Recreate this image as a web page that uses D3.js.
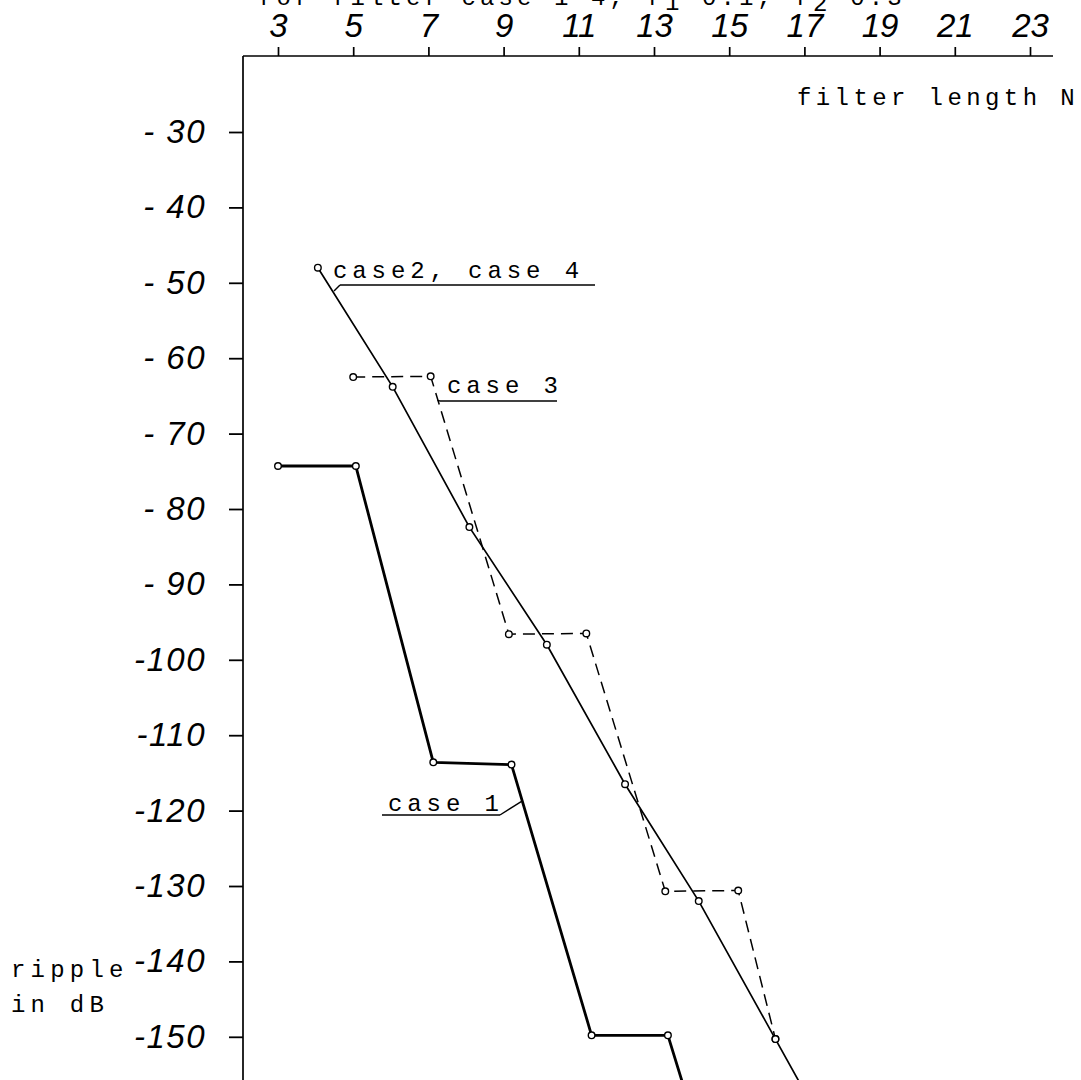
<!DOCTYPE html>
<html>
<head>
<meta charset="utf-8">
<script src="https://cdn.jsdelivr.net/npm/d3@7"></script>
<style>
  html, body { margin: 0; padding: 0; background: #fff; }
  svg { display: block; }
</style>
</head>
<body>
<script>
// Axis ticks: odd filter lengths on top, ripple levels in dB on the left
const nTicks = [3, 5, 7, 9, 11, 13, 15, 17, 19, 21, 23];
const dbTicks = [-30, -40, -50, -60, -70, -80, -90, -100, -110, -120, -130, -140, -150];
const dbTickLabels = ["- 30", "- 40", "- 50", "- 60", "- 70", "- 80", "- 90",
                      "-100", "-110", "-120", "-130", "-140", "-150"];

// case 1 (heavy solid line); last point lies below the bottom edge
const case1N  = [3, 5.07, 7.13, 9.21, 11.34, 13.37, 15.6];
const case1dB = [-74.3, -74.3, -113.6, -113.9, -149.8, -149.8, -186];

// case 2 / case 4 (thin solid line)
const case2N  = [4.06, 6.05, 8.09, 10.15, 12.23, 14.19, 16.23, 18.2];
const case2dB = [-48.0, -63.8, -82.4, -98.0, -116.5, -132.0, -150.3, -168];

// case 3 (dashed line)
const case3N  = [5.0, 7.06, 9.14, 11.2, 13.3, 15.24, 16.23];
const case3dB = [-62.5, -62.4, -96.6, -96.5, -130.7, -130.6, -150.3];

const W = 1081, H = 1080;
const frame = { left: 243, top: 56, right: 1053, bottom: H };

const svg = d3.select("body").append("svg")
  .attr("width", W).attr("height", H)
  .attr("viewBox", `0 0 ${W} ${H}`);

const x = d3.scaleLinear().domain([3, 23]).range([278, 1030]);
const y = d3.scaleLinear().domain([-30, -150]).range([132, 1036.8]);

const zip = (ns, dbs) => ns.map((n, i) => ({ n, db: dbs[i] }));
const case1 = zip(case1N, case1dB);
const case2 = zip(case2N, case2dB);
const case3 = zip(case3N, case3dB);

const monoFont = "'Liberation Mono', 'DejaVu Sans Mono', monospace";
const handFont = "'Liberation Sans', Arial, sans-serif";

// Heading (partly above the page edge)
const title = svg.append("text")
  .attr("x", 258).attr("y", 5)
  .attr("font-family", monoFont).attr("font-size", 24)
  .attr("letter-spacing", 4.1).attr("fill", "#000");
title.append("tspan").text("for filter case 1-4, f");
title.append("tspan").attr("dy", 5).text("1");
title.append("tspan").attr("dy", -5).text(" 0.1, f");
title.append("tspan").attr("dy", 6).text("2");
title.append("tspan").attr("dy", -6).text(" 0.3");

// Top axis: filter length N
const gx = svg.append("g")
  .attr("transform", `translate(0,${frame.top})`)
  .call(d3.axisTop(x).tickValues(nTicks).tickSize(9).tickSizeOuter(0)
        .tickPadding(10).tickFormat(d => String(d)));
gx.select(".domain").remove();
gx.attr("font-family", handFont).attr("font-size", 33).attr("font-style", "italic");
gx.selectAll(".tick line").attr("stroke", "#000").attr("stroke-width", 1.7);
gx.selectAll(".tick text").attr("fill", "#000");

// Left axis: ripple in dB
const gy = svg.append("g")
  .attr("transform", `translate(${frame.left},0)`)
  .call(d3.axisLeft(y).tickValues(dbTicks).tickSize(14).tickSizeOuter(0)
        .tickPadding(23).tickFormat((d, i) => dbTickLabels[i]));
gy.select(".domain").remove();
gy.attr("font-family", handFont).attr("font-size", 33).attr("font-style", "italic");
gy.selectAll(".tick line").attr("stroke", "#000").attr("stroke-width", 1.8);
gy.selectAll(".tick text").attr("fill", "#000").attr("letter-spacing", 1.5);

// Axis rules
svg.append("line")
  .attr("x1", frame.left).attr("x2", frame.right)
  .attr("y1", frame.top).attr("y2", frame.top)
  .attr("stroke", "#000").attr("stroke-width", 1.7);
svg.append("line")
  .attr("x1", frame.left).attr("x2", frame.left)
  .attr("y1", frame.top).attr("y2", frame.bottom)
  .attr("stroke", "#000").attr("stroke-width", 1.7);

// Axis titles
svg.append("text")
  .attr("x", 797).attr("y", 105)
  .attr("font-family", monoFont).attr("font-size", 24)
  .attr("letter-spacing", 4.4).attr("fill", "#000")
  .text("filter length N");
svg.append("text")
  .attr("x", 11).attr("y", 977)
  .attr("font-family", monoFont).attr("font-size", 24)
  .attr("letter-spacing", 5.2).attr("fill", "#000")
  .text("ripple");
svg.append("text")
  .attr("x", 11).attr("y", 1012)
  .attr("font-family", monoFont).attr("font-size", 24)
  .attr("letter-spacing", 5.2).attr("fill", "#000")
  .text("in dB");

// Curves, clipped to the plotting frame
svg.append("clipPath").attr("id", "plotClip")
  .append("rect")
  .attr("x", frame.left).attr("y", frame.top)
  .attr("width", frame.right - frame.left).attr("height", frame.bottom - frame.top);

const line = d3.line().x(d => x(d.n)).y(d => y(d.db));
const plot = svg.append("g").attr("clip-path", "url(#plotClip)");

plot.append("path").datum(case3)
  .attr("d", line).attr("fill", "none")
  .attr("stroke", "#000").attr("stroke-width", 1.5)
  .attr("stroke-dasharray", "12 7");
plot.append("path").datum(case2)
  .attr("d", line).attr("fill", "none")
  .attr("stroke", "#000").attr("stroke-width", 1.7);
plot.append("path").datum(case1)
  .attr("d", line).attr("fill", "none")
  .attr("stroke", "#000").attr("stroke-width", 2.8)
  .attr("stroke-linejoin", "round");

// Open circle markers on the plotted points
const markers = [...case1, ...case2, ...case3].filter(d => y(d.db) <= frame.bottom);
plot.selectAll("circle.pt").data(markers).join("circle")
  .attr("class", "pt")
  .attr("cx", d => x(d.n)).attr("cy", d => y(d.db))
  .attr("r", 3.3)
  .attr("fill", "#fff").attr("stroke", "#000").attr("stroke-width", 1.4);

// Curve labels with underline and a short leader to the curve
const labels = [
  { text: "case2, case 4", tx: 333, ty: 278, ux1: 340, ux2: 595, uy: 285, at: { n: 4.49, db: -51.1 } },
  { text: "case 3",        tx: 447, ty: 393, ux1: 440, ux2: 557, uy: 401, at: { n: 7.24, db: -65.6 } },
  { text: "case 1",        tx: 388, ty: 811, ux1: 382, ux2: 500, uy: 815, at: { n: 9.5,  db: -118.7 } }
];
const lg = svg.append("g");
labels.forEach(l => {
  lg.append("text")
    .attr("x", l.tx).attr("y", l.ty)
    .attr("font-family", monoFont).attr("font-size", 24)
    .attr("letter-spacing", 4.9).attr("fill", "#000")
    .text(l.text);
  lg.append("line")
    .attr("x1", l.ux1).attr("x2", l.ux2).attr("y1", l.uy).attr("y2", l.uy)
    .attr("stroke", "#000").attr("stroke-width", 1.5);
  const lx = l.text === "case 1" ? l.ux2 : l.ux1;
  lg.append("line")
    .attr("x1", lx).attr("y1", l.uy)
    .attr("x2", x(l.at.n)).attr("y2", y(l.at.db))
    .attr("stroke", "#000").attr("stroke-width", 1.4);
});
</script>
</body>
</html>
